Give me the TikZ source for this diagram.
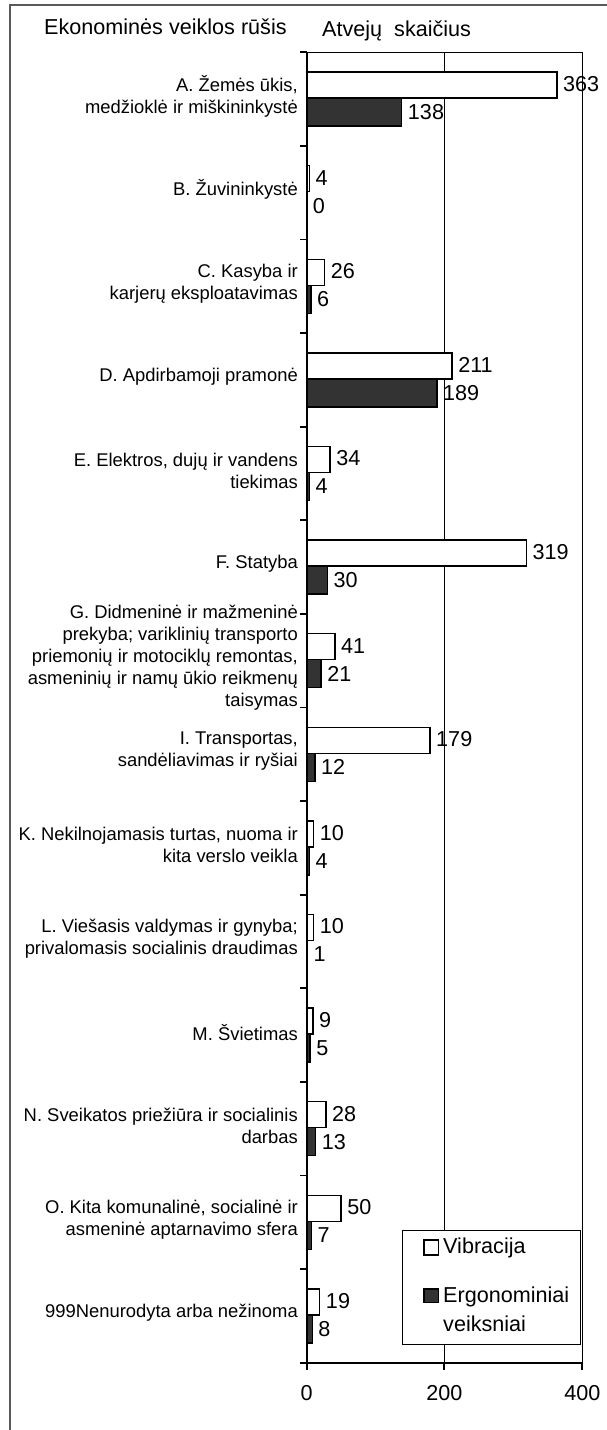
\documentclass[tikz,border=0pt]{standalone}
\usepackage{fontspec}
\setmainfont{Liberation Sans}
\begin{document}
\begin{tikzpicture}[x=1pt,y=1pt,
  txt/.style={font=\fontsize{21.6}{26}\selectfont, inner sep=0pt},
  cat/.style={font=\fontsize{18.4}{22}\selectfont, inner sep=0pt, anchor=east, align=right},
  val/.style={txt, anchor=west},
  barw/.style={draw=black, fill=white, line width=1.4pt},
  bard/.style={draw=black, fill=black!80, line width=1.4pt},
  axisline/.style={line width=1.8pt, black},
  grid/.style={line width=1.3pt, black},
  frameline/.style={line width=2pt, black!65}]
\useasboundingbox (0,0) rectangle (607,-1430);
\def\X{306.7}\def\T{52.3}\def\H{93.6}\def\S{0.689}\def\B{1362.7}
% outer frame
\draw[frameline] (10,-1431) -- (10,-5) -- (608,-5);
% headings
\node[txt, anchor=west] (h1) at (44,-27) {Ekonominės veiklos rūšis};
\node[txt, anchor=west] (h2) at (322,-31) {Atvejų\ \ skaičius};
% grid and plot border
\coordinate (g200t) at (444.3,-\T);
\coordinate (g200b) at (444.3,-\B-7);
\draw[grid] (g200t) -- (g200b);
\draw[grid] (300,-\T) -- (582.3,-\T) -- (582.3,-\B-7);
% category ticks
\foreach \k in {0,...,14}{
  \pgfmathsetmacro\yy{\T+\H*\k}
  \draw[axisline] (300,-\yy) -- (\X,-\yy);
}
% bars and labels
\foreach \i/\v/\e/\lab in {
  0/363/138/{A. Žemės ūkis,\\medžioklė ir miškininkystė},
  1/4/0/{B. Žuvininkystė},
  2/26/6/{C. Kasyba ir\\karjerų eksploatavimas},
  3/211/189/{D. Apdirbamoji pramonė},
  4/34/4/{E. Elektros, dujų ir vandens\\tiekimas},
  5/319/30/{F. Statyba},
  6/41/21/{G. Didmeninė ir mažmeninė\\prekyba; variklinių transporto\\priemonių ir motociklų remontas,\\asmeninių ir namų ūkio reikmenų\\taisymas},
  7/179/12/{I. Transportas,\\sandėliavimas ir ryšiai},
  8/10/4/{K. Nekilnojamasis turtas, nuoma ir\\kita verslo veikla},
  9/10/1/{L. Viešasis valdymas ir gynyba;\\privalomasis socialinis draudimas},
  10/9/5/{M. Švietimas},
  11/28/13/{N. Sveikatos priežiūra ir socialinis\\darbas},
  12/50/7/{O. Kita komunalinė, socialinė ir\\asmeninė aptarnavimo sfera},
  13/19/8/{999Nenurodyta arba nežinoma}}{
  \pgfmathsetmacro\c{\T+\H*\i+\H/2}
  \pgfmathsetmacro\xv{\X+\v*\S}
  \pgfmathsetmacro\xe{\X+\e*\S}
  \draw[barw] (\X,-\c+27) rectangle (\xv,-\c+1);
  \draw[bard] (\X,-\c+1) rectangle (\xe,-\c-27);
  \node[val] (vv\i) at (\xv+6,-\c+15) {\v};
  \node[val] (ve\i) at (\xe+6,-\c-13) {\e};
  \node[cat] (lab\i) at (298,-\c+3) {\lab};
}
% axes
\draw[axisline] (\X,-\T) -- (\X,-\B);
\draw[axisline] (300,-\B) -- (582.3,-\B);
\foreach \xx/\t in {306.7/0,444.3/200,582.3/400}{
  \draw[axisline] (\xx,-\B) -- (\xx,-\B-7);
  \node[txt] (xt\t) at (\xx,-1393) {\t};
}
% legend
\node[draw=black, line width=1.4pt, fill=white, minimum width=178.4pt, minimum height=113.6pt, inner sep=0pt] (legend) at (491.5,-1287.5) {};
\draw[barw, line width=1.2pt] (424,-1240) rectangle (438.3,-1255);
\draw[bard, line width=1.2pt] (424,-1289) rectangle (438.3,-1302.7);
\node[txt, anchor=west] (lv) at (443,-1248) {Vibracija};
\node[txt, anchor=west] (le1) at (443,-1297) {Ergonominiai};
\node[txt, anchor=west] (le2) at (443,-1324) {veiksniai};
\end{tikzpicture}
\end{document}
